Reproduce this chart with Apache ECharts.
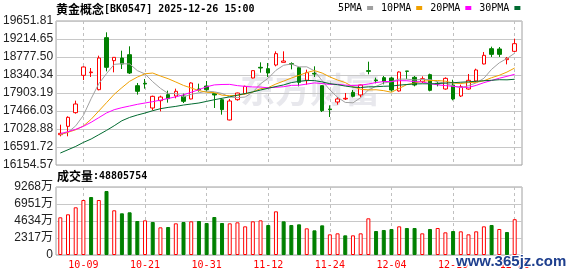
<!DOCTYPE html>
<html><head><meta charset="utf-8">
<script src="https://cdn.jsdelivr.net/npm/echarts@6/dist/echarts.min.js"></script>
<style>html,body{margin:0;padding:0;background:#fff}#c{width:578px;height:276px}</style>
</head><body><div id="c"></div>
<script>
const titleName = '黄金概念';
const titleInfo = '[BK0547] 2025-12-26 15:00';
const lastVolume = '48805754';
const dates = ['09-26','09-29','09-30','10-09','10-10','10-13','10-14','10-15','10-16','10-17',
 '10-20','10-21','10-22','10-23','10-24','10-27','10-28','10-29','10-30','10-31',
 '11-03','11-04','11-05','11-06','11-07','11-10','11-11','11-12','11-13','11-14',
 '11-17','11-18','11-19','11-20','11-21','11-24','11-25','11-26','11-27','11-28',
 '12-01','12-02','12-03','12-04','12-05','12-08','12-09','12-10','12-11','12-12',
 '12-15','12-16','12-17','12-18','12-19','12-22','12-23','12-24','12-25','12-26'];
const labelDates = ['10-09','10-21','10-31','11-12','11-24','12-04','12-16','12-26'];
const opens = [16891,17094,17426,18332,18397,17984,19247,18689,18753,18834,
 18081,18138,17539,17717,17863,17830,17830,17758,18000,18073,
 17887,17741,17248,17741,17887,18268,18527,18494,18583,18648,
 18616,18519,18211,18381,18081,17515,17685,17758,17919,17855,
 18446,18219,18276,18268,17952,18438,18284,18179,18349,18138,
 18000,18098,17830,18000,18195,18608,18980,18972,18713,18915];
const closes = [16924,17312,17636,18535,18413,18753,18527,18769,18607,18389,
 17944,18122,17822,17806,17766,17944,17701,18146,17976,17984,
 17855,17499,17709,17903,18065,18446,18510,18389,18859,18680,
 18599,18162,18397,18365,17474,17499,17758,17774,17822,18098,
 18429,18203,18179,17976,18413,18429,18098,18251,17968,18122,
 18259,17758,18057,18211,18462,18818,18842,18842,18745,19101];
const lows = [16851,16851,17401,18219,18292,17968,18429,18405,18486,18365,
 17863,18009,17482,17458,17669,17774,17660,17749,17936,17936,
 17539,17377,17239,17717,17871,18259,18397,18292,18551,18648,
 18478,18065,18106,18292,17441,17320,17620,17733,17798,17798,
 18357,18138,18114,17936,17936,18243,18065,18146,17944,18065,
 17984,17725,17806,17984,18170,18599,18778,18778,18599,18899];
const highs = [17134,17337,17717,18551,18510,18810,19377,18769,18931,19037,
 18146,18243,17839,17839,17960,18009,17887,18162,18130,18195,
 17887,17774,17758,17911,18081,18454,18648,18632,18915,18915,
 18648,18535,18470,18551,18090,17604,17806,17903,17976,18106,
 18664,18276,18316,18292,18429,18438,18316,18308,18373,18179,
 18284,18226,18106,18365,18494,18899,19029,19020,18778,19223];
const ma5 = [16890,16950,17105,17360,17764,18130,18373,18599,18614,18609,
 18447,18366,18177,18017,17892,17892,17808,17873,17907,17950,
 17932,17892,17805,17790,17806,17924,18127,18263,18454,18577,
 18607,18538,18539,18441,18199,17979,17799,17674,17665,17790,
 17976,18065,18146,18177,18240,18240,18219,18233,18232,18174,
 18140,18072,18033,18081,18149,18261,18478,18636,18742,18870];
const ma10 = [16900,16950,17010,17102,17264,17466,17668,17871,18033,18187,
 18289,18370,18388,18315,18251,18170,18087,18025,17962,17921,
 17912,17850,17839,17848,17878,17928,18009,18034,18122,18192,
 18266,18332,18401,18447,18388,18293,18218,18157,18053,17995,
 17978,17982,17960,17921,18015,18108,18142,18190,18204,18207,
 18190,18145,18133,18157,18162,18200,18275,18334,18412,18510];
const ma20 = [16916,16964,17021,17094,17191,17304,17418,17498,17547,17587,
 17628,17660,17693,17730,17770,17810,17860,17920,17985,18054,
 18100,18110,18113,18082,18064,18049,18048,18029,18042,18056,
 18089,18091,18120,18148,18133,18111,18114,18095,18087,18093,
 18122,18157,18181,18184,18202,18201,18180,18173,18129,18101,
 18084,18064,18047,18039,18088,18154,18208,18262,18308,18358];
const ma30 = [16445,16525,16606,16703,16785,16890,16995,17108,17230,17310,
 17368,17417,17473,17522,17553,17578,17611,17636,17660,17700,
 17740,17775,17810,17850,17890,17930,17975,18020,18060,18100,
 18156,18184,18209,18204,18172,18130,18105,18072,18046,18036,
 18052,18055,18067,18072,18094,18110,18123,18127,18126,18131,
 18145,18153,18165,18175,18188,18201,18212,18226,18223,18237];
const volumes = [5138,5547,6501,7497,7905,7497,8723,6092,5683,5820,
 4634,4725,4498,3771,3816,4316,4498,4589,4634,4362,
 5179,4362,4316,4453,3907,4589,4725,4089,5952,4589,
 4089,4180,3634,3362,4044,2817,2953,2681,2681,2953,
 5000,3271,3408,3544,3907,3680,3680,2953,3544,3680,
 3089,3271,3226,2817,3226,3907,4089,3544,3135,4881];
const volUp = [1,1,1,1,0,1,0,1,0,0, 0,1,0,1,0,1,0,1,0,0,
 0,0,1,1,1,1,1,0,1,0, 0,0,1,0,0,1,1,0,1,1,
 1,0,0,0,1,0,0,1,0,1, 1,0,1,1,1,1,0,1,0,1];
const priceTicks = ['19651.81','19214.65','18777.50','18340.34','17903.19','17466.03','17028.88','16591.72','16154.57'];
const volTicks = ['9268万','6951万','4634万','2317万','0'];
const PRICE_MIN = 16154.57, PRICE_MAX = 19651.81, VOL_MAX = 9268;
const maNames = ['5PMA','10PMA','20PMA','30PMA'];
const maColors = ['#a0a0a0','#f0a000','#ff00ff','#006a30'];

const RED = '#ff0000', GREEN = '#008000';
const MONO = '"DejaVu Sans Mono", monospace';
const CJK = '"Noto Sans CJK SC", sans-serif';
const chart = echarts.init(document.getElementById('c'), null, {renderer: 'canvas'});
const showLabel = (i, v) => labelDates.indexOf(v) >= 0;
const richTitle = {
  c: {fontFamily: CJK, fontSize: 12, color: '#000'},
  a: {fontFamily: MONO, fontSize: 10, color: '#000'}
};
const frameY = (ticks) => ({
  type: 'value', min: 0, max: ticks.length - 1, interval: 1,
  axisLine: {show: false}, axisTick: {show: false},
  axisLabel: {formatter: v => ticks[ticks.length - 1 - v], color: '#222', fontSize: 12,
    fontFamily: '"Liberation Sans", "Noto Sans CJK SC", sans-serif', margin: 3},
  splitLine: {lineStyle: {color: '#c8c8c8', width: 1}}
});
const dataX = (gi, labels) => ({
  type: 'category', gridIndex: gi, data: dates, boundaryGap: false,
  axisLine: {show: false}, axisTick: {show: false},
  axisLabel: labels ? {interval: showLabel, color: RED, fontFamily: MONO, fontSize: 10, margin: 5} : {show: false},
  splitLine: {show: true, interval: showLabel, lineStyle: {color: '#c0c0c0', type: [3, 3], width: 1}}
});
const lineSeries = [ma5, ma10, ma20, ma30].map((arr, k) => ({
  name: maNames[k], type: 'line', xAxisIndex: 1, yAxisIndex: 1, data: arr,
  showSymbol: false, symbol: 'none', color: maColors[k], itemStyle: {color: maColors[k]},
  lineStyle: {color: maColors[k], width: 1}, silent: true, z: 3
}));
chart.setOption({
  animation: false,
  title: [
    {text: '{c|' + titleName + '}{a|' + titleInfo + '}', left: 56, top: 3, padding: 0, textStyle: {rich: richTitle}},
    {text: '{c|成交量}{a|:' + lastVolume + '}', left: 57, top: 170, padding: 0, textStyle: {rich: richTitle}}
  ],
  legend: {
    data: maNames, left: 338, top: 3, align: 'right', icon: 'rect', itemWidth: 6, itemHeight: 4,
    itemGap: 8, selectedMode: false, padding: 0,
    textStyle: {fontFamily: MONO, fontSize: 10, color: '#000'}
  },
  grid: [
    {left: 56, top: 21, width: 466, height: 144, show: true, borderColor: '#a0a0a0', borderWidth: 1},
    {left: 60.3, top: 21, width: 454.4, height: 144},
    {left: 56, top: 187, width: 466, height: 68, show: true, borderColor: '#a0a0a0', borderWidth: 1},
    {left: 60.3, top: 187, width: 454.4, height: 68}
  ],
  xAxis: [
    {type: 'value', gridIndex: 0, min: 0, max: 1, show: false},
    dataX(1, false),
    {type: 'value', gridIndex: 2, min: 0, max: 1, show: false},
    dataX(3, true)
  ],
  yAxis: [
    Object.assign({gridIndex: 0}, frameY(priceTicks)),
    {type: 'value', gridIndex: 1, min: PRICE_MIN, max: PRICE_MAX, show: false},
    Object.assign({gridIndex: 2}, frameY(volTicks)),
    {type: 'value', gridIndex: 3, min: 0, max: VOL_MAX, show: false}
  ],
  graphic: [
    {type: 'text', left: 240, top: 72, z: -1, silent: true,
     style: {text: '东方财富', font: 'bold 35px "Noto Sans CJK SC"', fill: 'rgba(205,205,215,0.45)'}},
    {type: 'text', left: 455, top: 253, z: 100, silent: true,
     style: {text: 'www.365jz.com', font: 'bold 15px "Liberation Sans"', fill: '#1e3f8e', stroke: '#fff', lineWidth: 2}}
  ],
  series: [
    {type: 'candlestick', xAxisIndex: 1, yAxisIndex: 1, barWidth: 4, silent: true, z: 2,
     data: dates.map((d, i) => [opens[i], closes[i], lows[i], highs[i]]),
     itemStyle: {color: '#fff', color0: GREEN, borderColor: RED, borderColor0: GREEN, borderWidth: 1}},
    ...lineSeries,
    {type: 'bar', xAxisIndex: 3, yAxisIndex: 3, barWidth: 4, silent: true,
     data: volumes.map((v, i) => ({value: v, itemStyle: volUp[i]
       ? {color: '#fff', borderColor: RED, borderWidth: 1}
       : {color: GREEN, borderColor: GREEN, borderWidth: 1}}))}
  ]
});
</script></body></html>
